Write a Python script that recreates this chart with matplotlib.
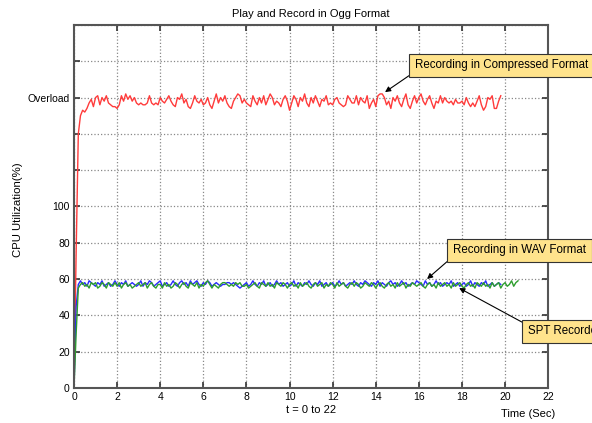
import numpy as np
import matplotlib
matplotlib.use('Agg')
import matplotlib.pyplot as plt

plt.rcParams['font.family'] = ['Liberation Sans', 'DejaVu Sans']

# samples every 0.1 s
sample_step = 0.1

red_cpu = [
    0, 75, 140, 150, 153, 152, 154, 157, 159, 155,
    160, 161, 156, 160, 158, 161, 157, 156, 155, 155,
    154, 156, 161, 158, 162, 159, 161, 158, 160, 157,
    156, 157, 156, 156, 157, 161, 157, 156, 157, 156,
    160, 158, 157, 159, 161, 158, 156, 155, 160, 159,
    162, 157, 159, 155, 154, 157, 161, 158, 157, 159,
    156, 157, 160, 156, 154, 158, 162, 157, 160, 158,
    161, 157, 155, 154, 158, 160, 162, 161, 157, 159,
    157, 156, 155, 161, 158, 156, 160, 157, 161, 156,
    159, 162, 160, 156, 158, 157, 155, 159, 161, 158,
    153, 157, 161, 159, 155, 160, 158, 162, 157, 155,
    160, 157, 161, 158, 155, 159, 158, 161, 156, 157,
    156, 159, 160, 157, 156, 155, 156, 161, 159, 157,
    157, 161, 156, 160, 158, 157, 161, 154, 157, 159,
    155, 161, 162, 162, 160, 156, 158, 154, 160, 158,
    161, 157, 155, 159, 162, 156, 154, 158, 161, 157,
    160, 162, 158, 156, 159, 161, 157, 154, 158, 157,
    161, 157, 160, 158, 157, 158, 156, 159, 157, 157,
    158, 156, 160, 157, 155, 157, 155, 158, 161, 156,
    153, 155, 160, 159, 161, 154, 154, 158, 161,
]

blue_cpu = [
    0, 45, 57, 59, 57, 58, 56, 59, 58, 57,
    56, 58, 57, 59, 56, 57, 58, 56, 57, 59,
    57, 56, 58, 57, 59, 56, 57, 58, 57, 56,
    57, 59, 56, 58, 57, 59, 58, 56, 57, 58,
    59, 56, 57, 58, 56, 57, 59, 57, 56, 58,
    59, 57, 58, 56, 59, 57, 58, 59, 57, 56,
    58, 57, 59, 58, 56, 57, 58, 57, 56, 57,
    57, 58, 58, 57, 58, 57, 56, 55, 56, 57,
    58, 56, 57, 59, 57, 56, 58, 57, 59, 56,
    57, 58, 56, 57, 59, 57, 58, 56, 57, 58,
    56, 57, 59, 56, 58, 57, 56, 58, 57, 59,
    57, 56, 58, 57, 59, 56, 57, 58, 56, 57,
    58, 56, 57, 59, 57, 58, 56, 57, 58, 57,
    59, 57, 56, 58, 57, 59, 58, 57, 56, 58,
    57, 59, 56, 58, 57, 56, 58, 59, 57, 58,
    56, 57, 59, 57, 58, 56, 57, 58, 57, 59,
    58, 57, 56, 59, 57, 58, 56, 57, 59, 57,
    58, 56, 57, 58, 57, 59, 56, 57, 58, 56,
    57, 58, 56, 57, 59, 56, 58, 57, 56, 58,
    57, 59, 56, 57, 58, 56, 57, 58, 57,
]

green_cpu = [
    0, 30, 55, 57, 58, 56, 57, 55, 58, 57,
    58, 55, 56, 58, 57, 55, 58, 57, 56, 58,
    56, 58, 55, 57, 58, 56, 57, 55, 56, 57,
    58, 56, 57, 58, 55, 57, 58, 56, 55, 57,
    57, 55, 58, 56, 57, 55, 56, 58, 57, 55,
    57, 58, 56, 55, 58, 57, 56, 58, 55, 57,
    56, 58, 59, 57, 55, 57, 56, 55, 57, 58,
    58, 57, 56, 57, 56, 58, 57, 58, 56, 56,
    57, 55, 56, 57, 58, 56, 55, 58, 57, 56,
    58, 56, 57, 55, 58, 57, 56, 58, 57, 55,
    57, 58, 56, 57, 55, 58, 56, 57, 58, 56,
    55, 57, 58, 56, 57, 58, 55, 57, 56, 58,
    57, 55, 58, 56, 57, 58, 56, 55, 57, 58,
    56, 58, 57, 55, 56, 58, 57, 56, 58, 57,
    55, 57, 58, 56, 55, 57, 58, 56, 57, 55,
    58, 56, 57, 58, 55, 57, 56, 58, 57, 56,
    57, 58, 56, 55, 57, 58, 56, 57, 55, 58,
    56, 57, 58, 56, 57, 55, 58, 56, 57, 58,
    56, 55, 57, 58, 56, 57, 55, 58, 57, 56,
    58, 56, 57, 55, 58, 56, 57, 58, 55, 57,
    58, 56, 57, 59, 56, 58, 59,
]

y_ticks = [0, 20, 40, 60, 80, 100, 120, 140, 160, 180, 200]
y_tick_labels = ['0', '20', '40', '60', '80', '100', '', '', 'Overload', '', '']
x_ticks = list(range(0, 23, 2))

red_t = np.arange(len(red_cpu)) * sample_step
blue_t = np.arange(len(blue_cpu)) * sample_step
green_t = np.arange(len(green_cpu)) * sample_step

fig = plt.figure(figsize=(5.92, 4.23), dpi=100)
ax = fig.add_axes([0.125, 0.083, 0.801, 0.858])

ax.plot(red_t, red_cpu, color='#ff3b3b', linewidth=1.0)
ax.plot(blue_t, blue_cpu, color='#2a2aff', linewidth=1.0)
ax.plot(green_t, green_cpu, color='#2e9e2e', linewidth=1.0)

ax.set_xlim(0, 22)
ax.set_ylim(0, 200)
ax.set_xticks(x_ticks)
ax.set_yticks(y_ticks)
ax.set_yticklabels(y_tick_labels)
ax.tick_params(direction='in', length=4, width=1.2, labelsize=7.5,
               top=True, right=True, color='#333333', pad=3)
ax.grid(True, linestyle=':', color='#888888', linewidth=0.9)
for spine in ax.spines.values():
    spine.set_color('#555555')
    spine.set_linewidth(1.5)

ax.set_title('Play and Record in Ogg Format', fontsize=8, pad=6)
ax.set_xlabel('t = 0 to 22', fontsize=8, labelpad=2)
ax.set_ylabel('CPU Utilization(%)', fontsize=8.2)
ax.yaxis.set_label_coords(-0.108, 0.492)
fig.text(0.892, 0.021, 'Time (Sec)', fontsize=8, ha='center', va='center')

box_style = dict(boxstyle='square,pad=0.5', facecolor='#ffe38c',
                 edgecolor='#333333', linewidth=0.8)
arrow_style = dict(arrowstyle='-|>', color='black', linewidth=0.8,
                   mutation_scale=8, shrinkA=0, shrinkB=0, relpos=(0, 0))

ax.annotate('Recording in Compressed Format', xy=(14.43, 163), xytext=(15.83, 177.7),
            fontsize=8.3, ha='left', va='center', bbox=box_style,
            arrowprops=arrow_style, annotation_clip=False)
ax.annotate('Recording in WAV Format', xy=(16.38, 60), xytext=(17.59, 75.8),
            fontsize=8.3, ha='left', va='center', bbox=box_style,
            arrowprops=arrow_style, annotation_clip=False)
ax.annotate('SPT Recorder', xy=(17.87, 55), xytext=(21.07, 31.1),
            fontsize=8.3, ha='left', va='center', bbox=box_style,
            arrowprops=dict(arrow_style, relpos=(0, 1)), annotation_clip=False)

plt.savefig('out.png', dpi=100)
